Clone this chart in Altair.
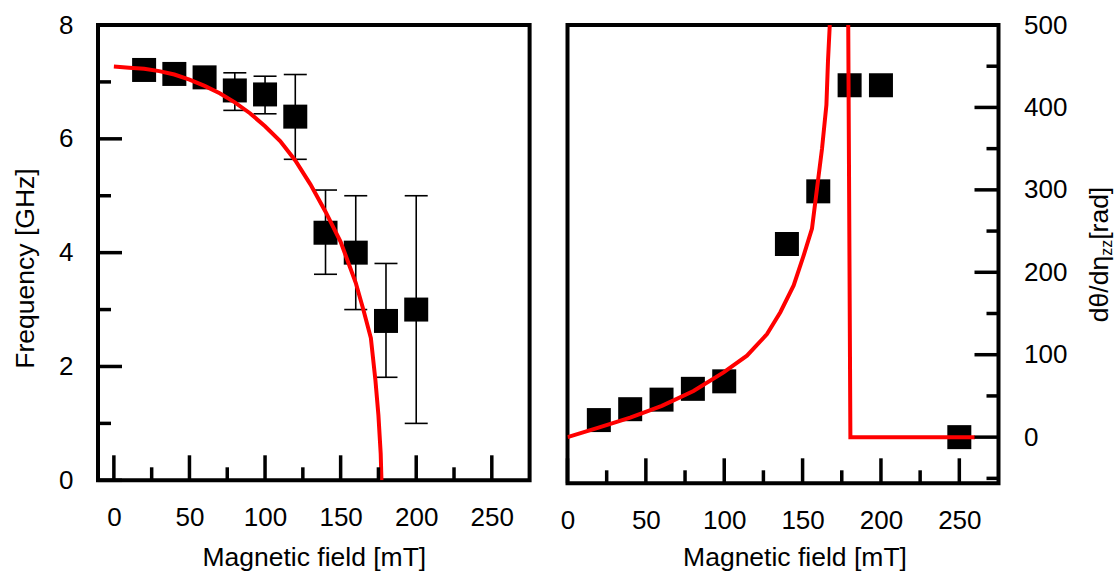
import altair as alt
import pandas as pd

# ---------------- data ----------------
# left panel: resonance frequency vs field
freq_field = [20, 40, 60, 80, 100, 120, 140, 160, 180, 200]
freq_val = [7.21, 7.14, 7.08, 6.85, 6.78, 6.39, 4.35, 4.0, 2.8, 3.0]
err_field = [80, 100, 120, 140, 160, 180, 200]
err_lo = [6.50, 6.44, 5.64, 3.62, 3.0, 1.81, 1.0]
err_hi = [7.16, 7.10, 7.13, 5.10, 5.0, 3.81, 5.0]
fit_field = [0, 10, 20, 30, 40, 50, 60, 70, 80, 90, 100, 110, 120, 130, 140,
             150, 160, 165, 170, 173, 175, 176.5, 177]
fit_freq = [7.27, 7.25, 7.23, 7.19, 7.13, 7.04, 6.93, 6.80, 6.64, 6.45, 6.22,
            5.96, 5.62, 5.20, 4.72, 4.19, 3.47, 3.00, 2.50, 1.76, 1.14, 0.47, 0.0]

# right panel: dtheta/deta_zz vs field
theta_field = [20, 40, 60, 80, 100, 140, 160, 180, 200, 250]
theta_val = [20.7, 33.9, 45.5, 58.6, 67.7, 234.3, 298.2, 426.9, 426.9, 0.0]
theta_fit_field = [0, 19.8, 40, 60.2, 80.4, 99.6, 114.5, 127.3, 135.8, 144.3,
                   150.7, 156, 159.2, 162.4, 165.2, 166.2, 167.3, 168.5, 178.8,
                   180.5, 260]
theta_fit_val = [0, 11.6, 23.7, 38, 56, 78.5, 98.8, 125, 151.5, 184, 220.5,
                 253, 301.6, 350, 403, 456, 498.5, 620, 620, 0, 0]

# tick values
x_major = [0, 50, 100, 150, 200, 250]
x_minor = [25, 75, 125, 175, 225]
f_major = [0, 2, 4, 6, 8]
f_minor = [1, 3, 5, 7]
t_major = [0, 100, 200, 300, 400, 500]
t_minor = [-50, 50, 150, 250, 350, 450]

x_title = "Magnetic field [mT]"
f_title = "Frequency [GHz]"
t_title_parts = ["dθ/dη", "zz", "[rad]"]

# ---------------- layout ----------------
W1, H1 = 431.6, 455.3
W2, H2 = 431.0, 458.3
FONT = "Liberation Sans"
RED = "#ff0000"
MAJ, MIN = 25, 13

xs1 = alt.Scale(domain=[-10.5, 275], nice=False, zero=False)
ys1 = alt.Scale(domain=[0, 8], nice=False, zero=False)
xs2 = alt.Scale(domain=[0, 275], nice=False, zero=False)
ys2 = alt.Scale(domain=[-56, 500], nice=False, zero=False)

ax_x1 = alt.Axis(values=x_major, title=x_title, labelPadding=24,
                 titleY=85, titleBaseline="alphabetic")
ax_y1 = alt.Axis(values=f_major, title=f_title, labelPadding=25,
                 titleAngle=270, titleX=-65, titleY=243,
                 titleBaseline="alphabetic", titleAlign="center")
ax_x2 = alt.Axis(values=x_major, title=x_title, labelPadding=24,
                 titleY=82, titleX=227, titleBaseline="alphabetic")
ax_y2 = alt.Axis(values=t_major, title=None, orient="right", labelPadding=25)

# ---------- left panel ----------
pts1 = pd.DataFrame({"B": freq_field, "f": freq_val})
err1 = pd.DataFrame({"B": err_field, "lo": err_lo, "hi": err_hi})
fit1 = pd.DataFrame({"B": fit_field, "f": fit_freq})

X1 = lambda f="B": alt.X(f"{f}:Q", scale=xs1, axis=ax_x1)

err_bar = alt.Chart(err1).mark_rule(color="black", strokeWidth=1.6).encode(
    x=X1(), y=alt.Y("lo:Q", scale=ys1, axis=ax_y1), y2="hi:Q")
cap_lo = alt.Chart(err1).mark_rule(color="black", strokeWidth=1.6,
                                   xOffset=-11.5, x2Offset=11.5).encode(
    x=X1(), x2="B:Q", y=alt.Y("lo:Q", scale=ys1, axis=ax_y1))
cap_hi = alt.Chart(err1).mark_rule(color="black", strokeWidth=1.6,
                                   xOffset=-11.5, x2Offset=11.5).encode(
    x=X1(), x2="B:Q", y=alt.Y("hi:Q", scale=ys1, axis=ax_y1))
sq1 = alt.Chart(pts1).mark_square(color="black", opacity=1, size=576).encode(
    x=X1(), y=alt.Y("f:Q", scale=ys1, axis=ax_y1))
line1 = alt.Chart(fit1).mark_line(color=RED, strokeWidth=4, clip=True).encode(
    x=X1(), y=alt.Y("f:Q", scale=ys1, axis=ax_y1))

xt1a = alt.Chart(pd.DataFrame({"B": x_major})).mark_rule(color="black", strokeWidth=3.5).encode(
    x=X1(), y=alt.value(H1), y2=alt.value(H1 - MAJ))
xt1b = alt.Chart(pd.DataFrame({"B": x_minor})).mark_rule(color="black", strokeWidth=3.5).encode(
    x=X1(), y=alt.value(H1), y2=alt.value(H1 - MIN))
yt1a = alt.Chart(pd.DataFrame({"f": f_major})).mark_rule(color="black", strokeWidth=3.5).encode(
    y=alt.Y("f:Q", scale=ys1, axis=ax_y1), x=alt.value(0), x2=alt.value(MAJ - 1))
yt1b = alt.Chart(pd.DataFrame({"f": f_minor})).mark_rule(color="black", strokeWidth=3.5).encode(
    y=alt.Y("f:Q", scale=ys1, axis=ax_y1), x=alt.value(0), x2=alt.value(MIN))

left = alt.layer(err_bar, cap_lo, cap_hi, sq1, line1, xt1a, xt1b, yt1a, yt1b).properties(
    width=W1, height=H1)

# ---------- right panel ----------
pts2 = pd.DataFrame({"B": theta_field, "t": theta_val})
fit2 = pd.DataFrame({"B": theta_fit_field, "t": theta_fit_val})
X2 = lambda f="B": alt.X(f"{f}:Q", scale=xs2, axis=ax_x2)

sq2 = alt.Chart(pts2).mark_square(color="black", opacity=1, size=576).encode(
    x=X2(), y=alt.Y("t:Q", scale=ys2, axis=ax_y2))
line2 = alt.Chart(fit2).mark_line(color=RED, strokeWidth=4, clip=True).encode(
    x=X2(), y=alt.Y("t:Q", scale=ys2, axis=ax_y2))

xt2a = alt.Chart(pd.DataFrame({"B": x_major})).mark_rule(color="black", strokeWidth=3.5).encode(
    x=X2(), y=alt.value(H2), y2=alt.value(H2 - MAJ))
xt2b = alt.Chart(pd.DataFrame({"B": x_minor})).mark_rule(color="black", strokeWidth=3.5).encode(
    x=X2(), y=alt.value(H2), y2=alt.value(H2 - MIN))
yt2a = alt.Chart(pd.DataFrame({"t": t_major})).mark_rule(color="black", strokeWidth=3.5).encode(
    y=alt.Y("t:Q", scale=ys2, axis=ax_y2), x=alt.value(W2), x2=alt.value(W2 - 24))
yt2b = alt.Chart(pd.DataFrame({"t": t_minor})).mark_rule(color="black", strokeWidth=3.5).encode(
    y=alt.Y("t:Q", scale=ys2, axis=ax_y2), x=alt.value(W2), x2=alt.value(W2 - 12))

title_df = pd.DataFrame({"s": t_title_parts})
tt_main = alt.Chart(title_df.iloc[[0]]).mark_text(
    angle=270, align="right", baseline="alphabetic", font=FONT, fontSize=26.5,
    color="black").encode(text="s:N", x=alt.value(540.5), y=alt.value(230.8))
tt_sub = alt.Chart(title_df.iloc[[1]]).mark_text(
    angle=270, align="left", baseline="alphabetic", font=FONT, fontSize=16,
    color="black").encode(text="s:N", x=alt.value(544), y=alt.value(230.8))
tt_unit = alt.Chart(title_df.iloc[[2]]).mark_text(
    angle=270, align="left", baseline="alphabetic", font=FONT, fontSize=26.5,
    color="black").encode(text="s:N", x=alt.value(540.5), y=alt.value(214.8))

right = alt.layer(sq2, line2, xt2a, xt2b, yt2a, yt2b, tt_main, tt_sub, tt_unit).properties(
    width=W2, height=H2)

chart = alt.hconcat(left, right, spacing=25.5).configure(
    padding={"left": 10, "top": 10, "right": 0, "bottom": 0},
    font=FONT, background="white",
).configure_view(
    stroke="black", strokeWidth=4,
).configure_axis(
    labelFont=FONT, titleFont=FONT, labelFontSize=26, titleFontSize=26.5,
    labelColor="black", titleColor="black", titleFontWeight="normal",
    grid=False, domain=False, ticks=False, tickSize=0, labelFlush=False,
)

chart.save("out.html", embed_options={"renderer": "svg", "actions": False})
